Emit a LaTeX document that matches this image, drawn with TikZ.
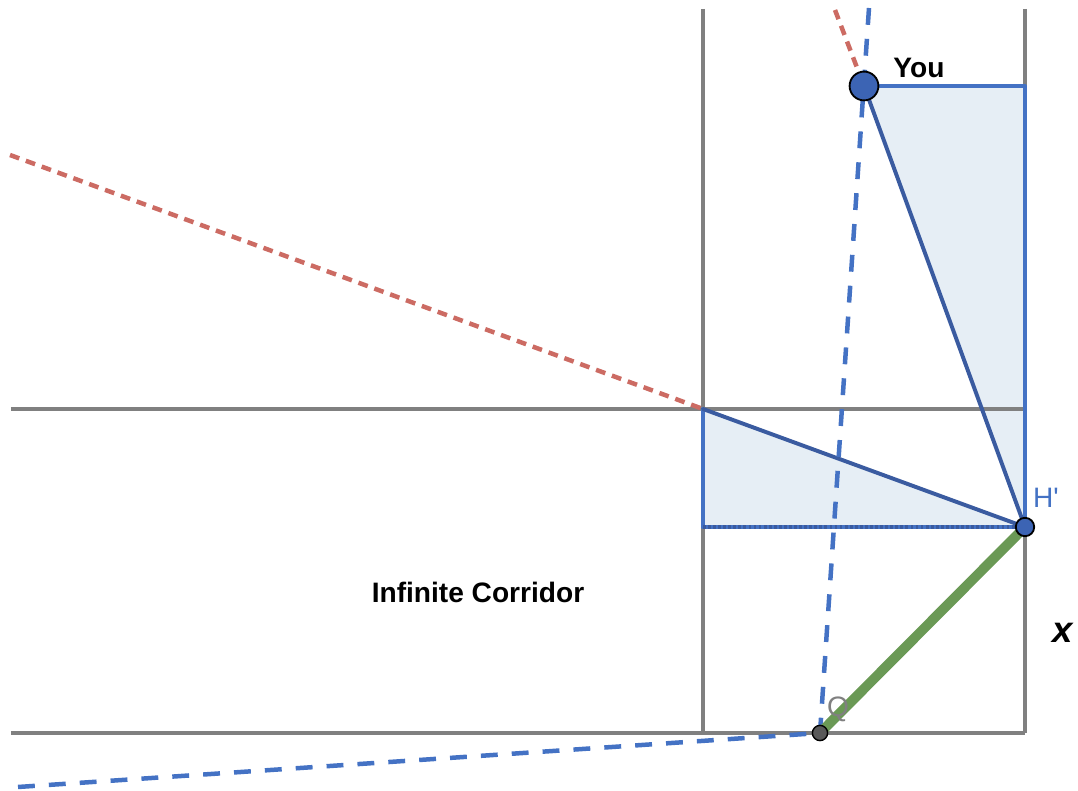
\documentclass[tikz,border=0pt]{standalone}
\usepackage{fontspec}
\setmainfont{Liberation Sans}
\definecolor{wallgray}{HTML}{808080}
\definecolor{geoblue}{HTML}{4472C4}
\definecolor{deepblue}{HTML}{3A5BA0}
\definecolor{paleblue}{HTML}{E6EEF5}
\definecolor{rayred}{HTML}{CC6B63}
\definecolor{pathgreen}{HTML}{6A9955}
\definecolor{dotblue}{HTML}{3C64B4}
\tikzset{
  wall/.style={line width=2.8pt, draw=wallgray, line cap=butt},
  shade/.style={fill=paleblue, draw=none},
  edge/.style={line width=2.8pt, draw=geoblue, line cap=round, line join=round},
  slant/.style={line width=2.8pt, draw=deepblue, line cap=round},
  dotline/.style={line width=2.2pt, draw=deepblue, dash pattern=on 2pt off 1.6pt},
  sightray/.style={line width=3.2pt, draw=geoblue, dash pattern=on 12pt off 10pt},
  redray/.style={line width=3.2pt, draw=rayred, dash pattern=on 7pt off 5pt},
  route/.style={line width=7pt, draw=pathgreen},
  bigdot/.style={fill=dotblue, draw=black, line width=1.3pt},
  smalldot/.style={fill=black!65, draw=black, line width=1pt},
  tag/.style={font=\fontsize{20}{24}\selectfont},
}

\begin{document}
\begin{tikzpicture}
\useasboundingbox (0,0) rectangle (26.95,19.775);
% key points
\coordinate (you) at (21.600,17.625);
\coordinate (corner) at (25.625,17.625);
\coordinate (hp) at (25.625,6.600);
\coordinate (bend) at (17.575,9.550);
\coordinate (foot) at (17.575,6.600);
\coordinate (q) at (20.500,1.450);
\coordinate (raytop) at (21.725,19.575);
\coordinate (rayleft) at (0.450,0.100);
\coordinate (redtop) at (20.875,19.525);
\coordinate (redleft) at (0.250,15.900);
% shaded triangles
\fill[shade] (you) -- (corner) -- (hp) -- cycle;
\fill[shade] (bend) -- (foot) -- (hp) -- cycle;
% corridor walls
\draw[wall] (17.575,19.550) -- (17.575,1.450);
\draw[wall] (25.625,19.550) -- (25.625,1.450);
\draw[wall] (0.275,9.550) -- (25.625,9.550);
\draw[wall] (0.275,1.450) -- (25.625,1.450);
% triangle edges
\draw[edge] (you) -- (corner) -- (hp);
\draw[edge] (bend) -- (foot);
\draw[edge] (foot) -- (hp);
\draw[dotline] (foot) -- (hp);
\draw[slant] (you) -- (hp);
\draw[slant] (bend) -- (hp);
% rays
\draw[redray] (redleft) -- (bend);
\draw[redray] (redtop) -- (you);
\draw[sightray] (raytop) -- (q);
\draw[sightray] (rayleft) -- (q);
\draw[route] (hp) -- (q);
% points
\draw[bigdot] (you) circle (0.36);
\draw[bigdot] (hp) circle (0.23);
\draw[smalldot] (q) circle (0.19);
% labels
\node[tag, font=\fontsize{20}{24}\selectfont\bfseries] (youlabel) at (22.975,18.075) {You};
\node[tag, font=\fontsize{20}{24}\selectfont\bfseries] (corridor) at (11.950,4.975) {Infinite Corridor};
\node[tag, text=geoblue] (hplabel) at (26.150,7.325) {H\textquotesingle};
\node[tag, text=wallgray] (qlabel) at (20.950,2.050) {Q};
\node[font=\fontsize{26}{30}\selectfont\bfseries\itshape] (xlabel) at (26.575,3.950) {x};
\end{tikzpicture}
\end{document}
